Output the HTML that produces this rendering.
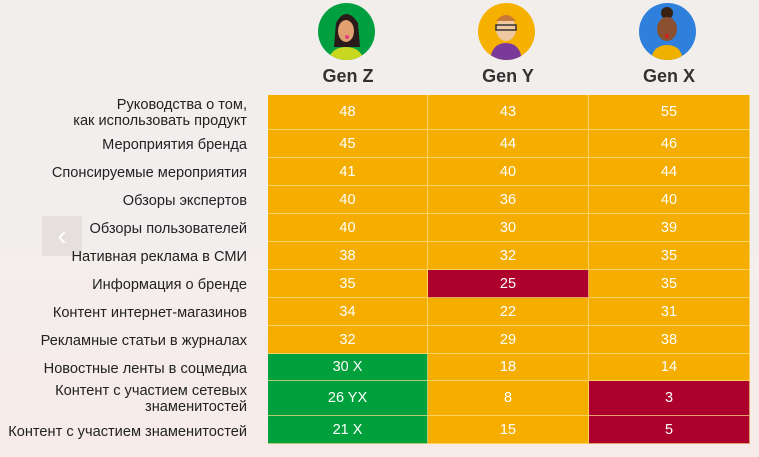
<!DOCTYPE html>
<html><head><meta charset="utf-8"><style>
html,body{margin:0;padding:0}
body{width:759px;height:457px;overflow:hidden;position:relative;font-family:"Liberation Sans",Arial,sans-serif;background:linear-gradient(180deg,#f1eeeb 0%,#f3eeee 50%,#f6ebe8 100%)}
.av{position:absolute;top:3px;width:57px;height:57px;border-radius:50%;overflow:hidden}
.h{position:absolute;top:66px;width:160px;text-align:center;font-weight:bold;font-size:18px;color:#333}
.lab{position:absolute;right:512px;width:270px;text-align:right;font-size:14.6px;color:#222;line-height:16px}
.c{position:absolute;display:flex;align-items:center;justify-content:center;color:#fff;font-size:14.5px;box-sizing:border-box;border-right:1px solid rgba(255,225,140,.7);border-bottom:1px solid rgba(255,225,140,.7)}
.o{background:#f5ae00}.g{background:#00a03c}.r{background:#ad002c}
.arr{position:absolute;left:42px;top:216px;width:40px;height:40px;background:rgba(220,215,210,.6);color:#fff;font-size:28px;text-align:center;line-height:40px}
</style></head><body>
<div class="arr">&#8249;</div>
<div class="av" style="left:318px;background:#00a040">
<svg width="57" height="57"><path d="M18 20 Q28 2 40 20 L42 44 L16 44Z" fill="#2a1a1a"/><ellipse cx="28" cy="28" rx="8" ry="11" fill="#e0a070"/><path d="M10 57 Q14 44 28 44 Q42 44 46 57Z" fill="#c8d820"/><circle cx="29" cy="34" r="2" fill="#e04080"/></svg></div>
<div class="av" style="left:478px;background:#f5b000">
<svg width="57" height="57"><path d="M12 57 Q14 40 28 40 Q42 40 44 57Z" fill="#7a3a9a"/><ellipse cx="28" cy="26" rx="10" ry="12" fill="#f0c8a0"/><path d="M18 18 Q28 6 38 18Z" fill="#c87838"/><rect x="18" y="22" width="20" height="5" fill="none" stroke="#333" stroke-width="1.5"/></svg></div>
<div class="av" style="left:639px;background:#2e80dc">
<svg width="57" height="57"><circle cx="28" cy="10" r="6" fill="#3a2010"/><ellipse cx="28" cy="26" rx="10" ry="12" fill="#8a5030"/><path d="M12 57 Q14 42 28 42 Q42 42 44 57Z" fill="#f0b000"/><circle cx="28" cy="33" r="2" fill="#d02020"/></svg></div>
<div class="h" style="left:268px">Gen Z</div>
<div class="h" style="left:428px">Gen Y</div>
<div class="h" style="left:589px">Gen X</div>

<div class="lab" style="top:97px">Руководства о том,<br>как использовать продукт</div>
<div class="lab" style="top:137px">Мероприятия бренда</div>
<div class="lab" style="top:165px">Спонсируемые мероприятия</div>
<div class="lab" style="top:193px">Обзоры экспертов</div>
<div class="lab" style="top:221px">Обзоры пользователей</div>
<div class="lab" style="top:249px">Нативная реклама в СМИ</div>
<div class="lab" style="top:277px">Информация о бренде</div>
<div class="lab" style="top:305px">Контент интернет-магазинов</div>
<div class="lab" style="top:333px">Рекламные статьи в журналах</div>
<div class="lab" style="top:361px">Новостные ленты в соцмедиа</div>
<div class="lab" style="top:383px">Контент с участием сетевых<br>знаменитостей</div>
<div class="lab" style="top:424px">Контент с участием знаменитостей</div>

<div id="t"></div>
<script>
var rows=[[95,35],[130,28],[158,28],[186,28],[214,28],[242,28],[270,28],[298,28],[326,28],[354,27],[381,35],[416,28]];
var d=[["48o","43o","55o"],["45o","44o","46o"],["41o","40o","44o"],["40o","36o","40o"],["40o","30o","39o"],["38o","32o","35o"],["35o","25r","35o"],["34o","22o","31o"],["32o","29o","38o"],["30 Xg","18o","14o"],["26 YXg","8o","3r"],["21 Xg","15o","5r"]];
var cols=[[268,160],[428,161],[589,161]],h="";
rows.forEach(function(r,i){d[i].forEach(function(v,j){var cl=v.slice(-1),t=v.slice(0,-1);
h+='<div class="c '+cl+'" style="left:'+cols[j][0]+'px;width:'+cols[j][1]+'px;top:'+r[0]+'px;height:'+r[1]+'px">'+t+'</div>';});});
document.getElementById("t").innerHTML=h;
</script>
</body></html>
